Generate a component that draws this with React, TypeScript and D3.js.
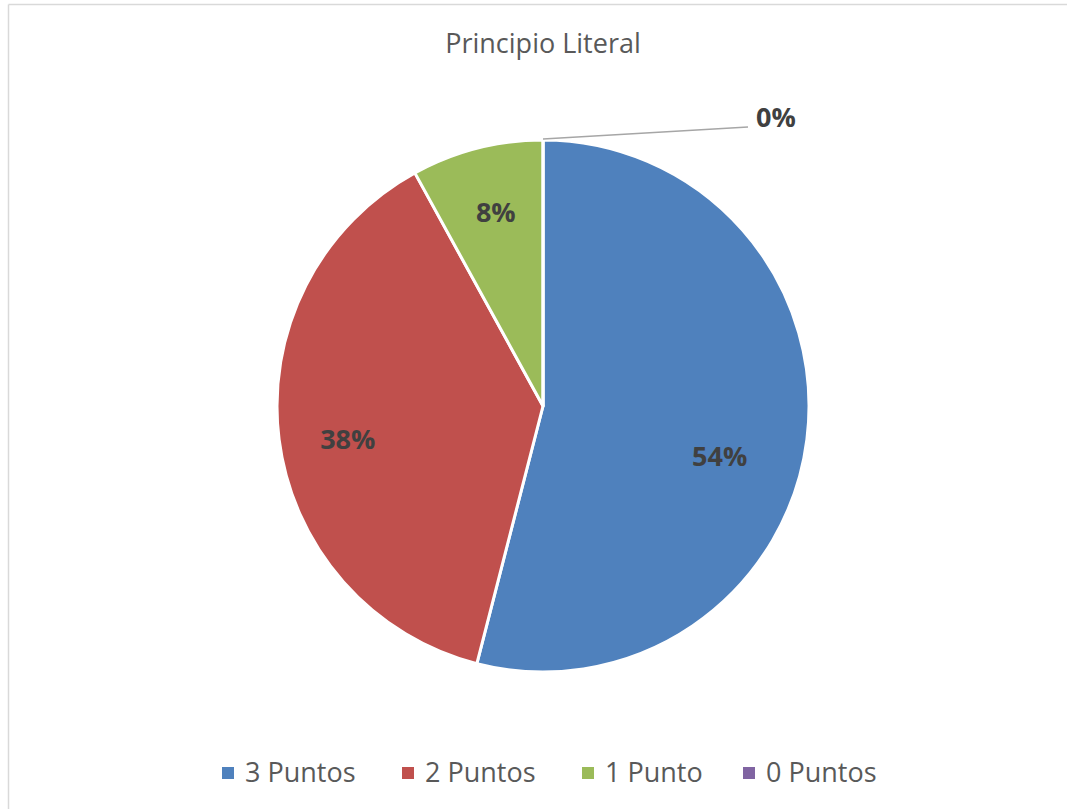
import React from "react";
import * as d3 from "d3";

const categories = ["3 Puntos", "2 Puntos", "1 Punto", "0 Puntos"];
const values = [54, 38, 8, 0];
const colors = ["#4F81BD", "#C0504D", "#9BBB59", "#8064A2"];
const title = "Principio Literal";
// label placement tweaks (style): angle shift in degrees and radius fraction
const labelAngleShift = [8.6, -2.6, 0.7, 0];
const labelRadius = [0.69, 0.745, 0.75, 1];
const legendX = [222, 402, 582, 743];

export default function App() {
  const W = 1067, H = 809;
  const cx = 543, cy = 406, r = 266;
  const pie = d3.pie<number>().sort(null).value((d) => d);
  const arcs = pie(values);
  const arc = d3.arc<d3.PieArcDatum<number>>().innerRadius(0).outerRadius(r);
  const total = d3.sum(values);
  const font = "'Open Sans', sans-serif";
  return (
    <svg width={W} height={H} style={{ position: "absolute", left: 0, top: 0, background: "#fff" }}>
      <rect x={0} y={0} width={W} height={H} fill="#fff" />
      <line x1={8.5} y1={4.5} x2={8.5} y2={H} stroke="#d9d9d9" strokeWidth={1.5} />
      <line x1={8.5} y1={4.5} x2={W} y2={4.5} stroke="#d9d9d9" strokeWidth={1.5} />
      <text x={543} y={53} textAnchor="middle" fontFamily={font} fontSize={27} fill="#595959">{title}</text>
      <g transform={`translate(${cx},${cy})`}>
        {arcs.map((a, i) => (
          <path key={i} d={arc(a) || ""} fill={colors[i]} stroke="#fff" strokeWidth={3} strokeLinejoin="round" />
        ))}
        {arcs.map((a, i) => {
          const pct = Math.round((a.value / total) * 100) + "%";
          if (a.value === 0) {
            const ang = a.startAngle;
            const x0 = Math.sin(ang) * r, y0 = -Math.cos(ang) * r;
            return (
              <g key={"l" + i}>
                <polyline points={`${x0},${y0 - 1} ${x0 + 205},${y0 - 13}`} fill="none" stroke="#A6A6A6" strokeWidth={1.5} />
                <text x={x0 + 213} y={y0 - 13} fontFamily={font} fontWeight="bold" fontSize={27} fill="#404040">{pct}</text>
              </g>
            );
          }
          const mid = (a.startAngle + a.endAngle) / 2 + (labelAngleShift[i] * Math.PI) / 180;
          const lr = r * labelRadius[i];
          const lx = Math.sin(mid) * lr, ly = -Math.cos(mid) * lr;
          return (
            <text key={"l" + i} x={lx} y={ly} dy="0.36em" textAnchor="middle" fontFamily={font} fontWeight="bold" fontSize={27} fill="#404040">{pct}</text>
          );
        })}
      </g>
      <g>
        {categories.map((c, i) => (
          <g key={c}>
            <rect x={legendX[i]} y={767} width={12} height={12} fill={colors[i]} />
            <text x={legendX[i] + 23} y={782} fontFamily={font} fontSize={27} fill="#595959">{c}</text>
          </g>
        ))}
      </g>
    </svg>
  );
}
